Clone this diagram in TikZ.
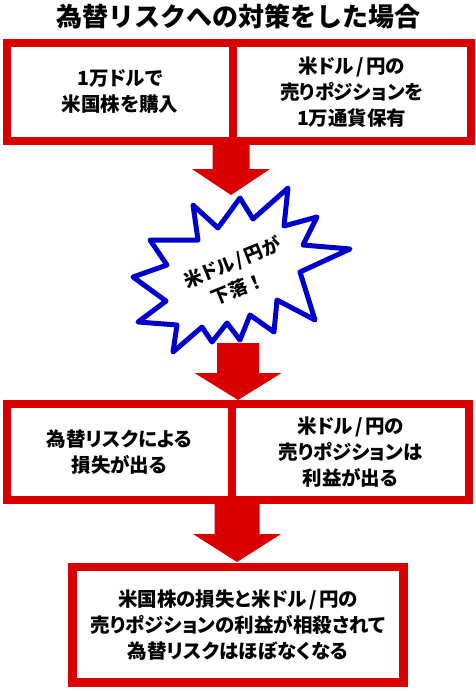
\documentclass[tikz,border=0pt]{standalone}
\usepackage{fontspec}
\setmainfont{Noto Sans CJK JP}
\newfontfamily\jp{Noto Sans CJK JP}[RawFeature=+palt]
\newfontfamily\jpmono{Noto Sans CJK JP}
\definecolor{boxred}{RGB}{218,0,0}
\definecolor{burstblue}{RGB}{0,0,204}
\newcommand{\slsep}{\kern2.5pt/\kern2.5pt}
\newcommand{\dnarrow}[6]{% cx, ytop, shaft half width, head y, head half width, tip y
  \fill[boxred] ({#1-#3},#2) -- ({#1+#3},#2) -- ({#1+#3},#4) -- ({#1+#5},#4)
    -- (#1,#6) -- ({#1-#5},#4) -- ({#1-#3},#4) -- cycle;}
\begin{document}
\begin{tikzpicture}[x=1pt,y=-1pt,
  redbox/.style={draw=boxred, line width=8pt, fill=white, rectangle, inner sep=0pt,
    align=center, font=\jp\bfseries\fontsize{19.5}{26}\selectfont},
  titletext/.style={font=\jpmono\bfseries\fontsize{26}{30}\selectfont, inner sep=0pt},
  bursttext/.style={font=\jp\bfseries\fontsize{18.5}{27}\selectfont, inner sep=0pt, rotate=22}]
\useasboundingbox (0,0) rectangle (476,691);
\fill[white] (0,0) rectangle (476,691);

% title
\node[titletext] (title) at (238.5,17) {為替リスクへの対策をした場合};

% top boxes
\node[redbox, minimum width=226pt, minimum height=97.5pt] (tl) at (120,91.75)
  {1万ドルで\\米国株を購入};
\node[redbox, minimum width=237.5pt, minimum height=97.5pt] (tr) at (351.75,91.75)
  {米ドル\slsep 円の\\売りポジションを\\1万通貨保有};

% arrow 1
\dnarrow{231}{144}{18.5}{169}{39}{195}

% starburst
\draw[burstblue, line width=5pt, line join=round, fill=white]
  (133,277) -- (167,265) -- (150,240) -- (198,240) -- (193,205) -- (218,228)
  -- (240,198) -- (253,219) -- (288,188) -- (284,226) -- (317,217) -- (303,245)
  -- (350,249) -- (300,272) -- (315,320) -- (277,300) -- (274,332) -- (250,315)
  -- (240,340) -- (227,323) -- (212,342) -- (202,327) -- (173,352) -- (177,325)
  -- (138,322) -- (166,301) -- cycle;
\node[bursttext] (burst1) at (232.5,263) {米ドル\slsep 円が};
\node[bursttext] (burst2) at (238,289) {下落{\jpmono ！}};

% arrow 2
\dnarrow{238}{343}{21}{373}{43.5}{400}

% middle boxes
\node[redbox, minimum width=225pt, minimum height=95.5pt] (ml) at (119.5,451.75)
  {為替リスクによる\\損失が出る};
\node[redbox, minimum width=237pt, minimum height=95.5pt] (mr) at (350.5,451.75)
  {米ドル\slsep 円の\\売りポジションは\\利益が出る};

% arrow 3
\dnarrow{237}{503}{22.5}{534}{44}{562}

% bottom box
\node[redbox, line width=8.5pt, minimum width=331pt, minimum height=115.5pt] (bt) at (238,624.75)
  {米国株の損失と米ドル\slsep 円の\\売りポジションの利益が相殺されて\\為替リスクはほぼなくなる};
\end{tikzpicture}
\end{document}
